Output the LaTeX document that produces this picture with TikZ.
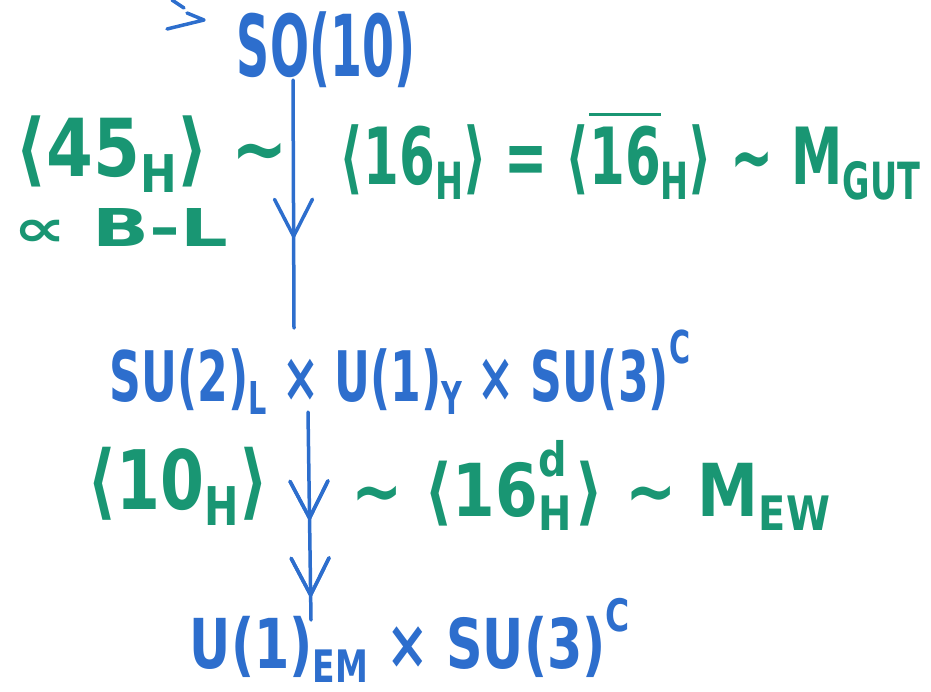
\documentclass[tikz,border=0pt]{standalone}
\usepackage{fontspec}
\setmainfont{DejaVu Sans}
\usepackage{graphicx}
\usetikzlibrary{decorations.markings}
\definecolor{inkblue}{RGB}{45,110,205}
\definecolor{inkgreen}{RGB}{25,150,115}
\newcommand{\dn}[1]{\raisebox{-0.35ex}{\scalebox{0.65}{#1}}}
\newcommand{\up}[1]{\raisebox{1.0ex}{\scalebox{0.65}{#1}}}
\newcommand{\fitbox}[3]{\resizebox*{#1pt}{#2pt}{#3}}
\begin{document}
\begin{tikzpicture}[x=1pt,y=-1pt,
  lbl/.style={inner sep=0pt, outer sep=0pt, font=\bfseries},
  blu/.style={lbl,text=inkblue},
  grn/.style={lbl,text=inkgreen},
  wire/.style={draw=inkblue, line width=3.5pt, line cap=round, line join=round},
  vmark/.style={postaction={decorate}, decoration={markings,
     mark=at position #1 with {\draw[inkblue, line width=3.5pt, line cap=round, line join=round] (-37pt,-19pt) -- (0,0) -- (-37pt,19pt);}}}]
\useasboundingbox (0,0) rectangle (931,691);
% labels
\node[grn] (l45) at (152,154) {\fitbox{272}{76}{⟨45\dn{H}⟩ ∼}};
\node[blu] (so) at (326,50) {\fitbox{178}{76}{SO(10)}};
\node[grn] (bl) at (121,227) {\fitbox{215}{38}{∝ B-L}};
\node[grn] (l16) at (630,155) {\fitbox{580}{90}{⟨16\dn{H}⟩ = ⟨$\overline{\hbox{16}}$\dn{H}⟩ ∼ M\dn{GUT}}};
\node[blu] (sm) at (400,372) {\fitbox{580}{85}{SU(2)\dn{L} × U(1)\dn{Y} × SU(3)\up{C}}};
\node[grn] (l10) at (178,486) {\fitbox{180}{78}{⟨10\dn{H}⟩}};
\node[grn] (l16d) at (591,485) {\fitbox{478}{90}{∼ ⟨16\rlap{\dn{H}}\up{d}\hspace{0.15em}⟩ ∼ M\dn{EW}}};
\node[blu] (em) at (410,640) {\fitbox{440}{84}{U(1)\dn{EM} × SU(3)\up{C}}};
% connectors
\coordinate (t1) at (293,80);
\coordinate (b1) at (294,328);
\coordinate (t2) at (308,412);
\coordinate (b2) at (311,620);
\draw[wire, vmark=0.63] (t1) -- (b1);
\draw[wire, vmark=0.51, vmark=0.88] (t2) -- (b2);
% small stray arrow at top left
\draw[wire] (167,29) -- (204,20) -- (187,13);
\draw[wire] (172,0) -- (184,8);
\end{tikzpicture}
\end{document}
